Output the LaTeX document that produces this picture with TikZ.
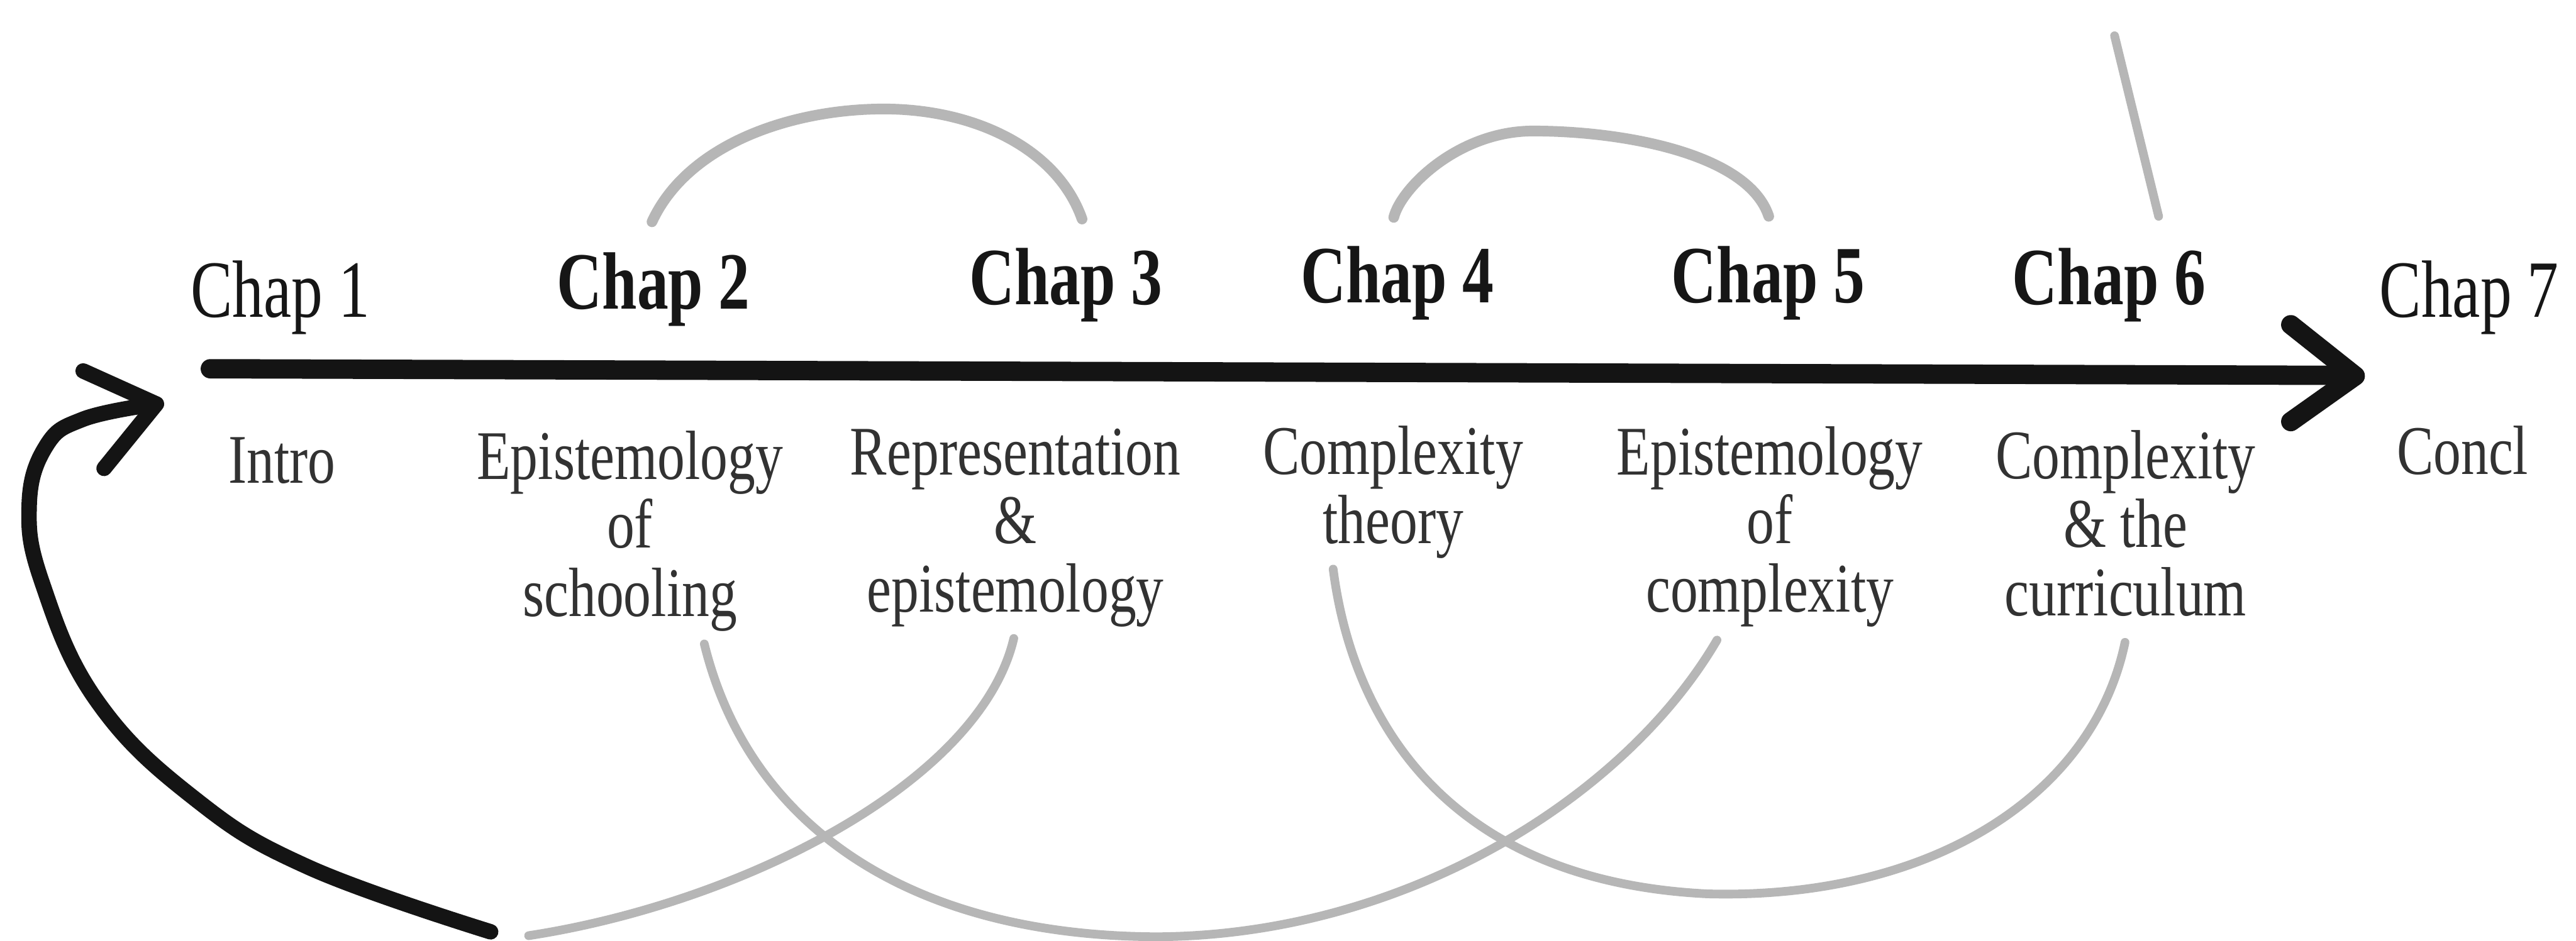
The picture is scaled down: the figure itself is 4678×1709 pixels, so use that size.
\documentclass[tikz,border=0pt]{standalone}
\usepackage{fontspec}
\newfontfamily\chapfont[FakeStretch=0.77]{Liberation Serif}
\newfontfamily\subfont[FakeStretch=0.79]{Liberation Serif}
\definecolor{ink}{RGB}{20,20,20}
\definecolor{chapink}{RGB}{22,22,22}
\definecolor{subink}{RGB}{50,50,50}
\definecolor{pencilgray}{RGB}{182,182,182}
\begin{document}
\begin{tikzpicture}[x=0.01cm,y=-0.01cm,
  chap/.style={anchor=base, inner sep=0pt, text=chapink, font=\chapfont\fontsize{42}{44}\selectfont},
  chapb/.style={chap, font=\chapfont\bfseries\fontsize{42}{44}\selectfont},
  sub/.style={anchor=base, inner sep=0pt, align=center, text=subink, font=\subfont\fontsize{36}{35.5}\selectfont},
  mainline/.style={line width=10pt, draw=ink, line cap=round, line join=round},
  loopline/.style={line width=8pt, draw=ink, line cap=round, line join=round},
  pencil/.style={line width=4.5pt, draw=pencilgray, line cap=round},
  pencilthick/.style={pencil, line width=5.5pt}]
\useasboundingbox (0,0) rectangle (4678,1709);
\fill[white] (0,0) rectangle (4678,1709);

% chapter headings
\node[chap]  (c1) at (509,576)  {Chap 1};
\node[chapb] (c2) at (1187,561) {Chap 2};
\node[chapb] (c3) at (1936,553) {Chap 3};
\node[chapb] (c4) at (2538,550) {Chap 4};
\node[chapb] (c5) at (3211,550) {Chap 5};
\node[chapb] (c6) at (3830,553) {Chap 6};
\node[chap]  (c7) at (4484,576) {Chap 7};

% subtitles (anchor = baseline of last line)
\node[sub] (s1) at (512,878)  {Intro};
\node[sub] (s2) at (1144,1120) {Epistemology\\of\\schooling};
\node[sub] (s3) at (1844,1112) {Representation\\\&\\epistemology};
\node[sub] (s4) at (2530,987) {Complexity\\theory};
\node[sub] (s5) at (3214,1112) {Epistemology\\of\\complexity};
\node[sub] (s6) at (3860,1119) {Complexity\\\& the\\curriculum};
\node[sub] (s7) at (4472,862) {Concl};

% main time arrow
\coordinate (mstart) at (382,670);
\coordinate (mend) at (4250,682);
\coordinate (mtip) at (4277,683);
\coordinate (mup) at (4160,590);
\coordinate (mlo) at (4160,766);
\draw[mainline] (mstart) -- (mend);
\draw[mainline] (mup) -- (mtip) -- (mlo);

% looping black arrow
\coordinate (ltip) at (284,734);
\coordinate (lup) at (151,674);
\coordinate (llo) at (189,851);
\draw[loopline] plot[smooth, tension=0.7] coordinates {(891,1693) (561,1576) (351,1449) (175,1272) (77,1060) (53,918) (84,810) (150,762) (270,736)};
\draw[loopline] (lup) -- (ltip) -- (llo);

% pencil arcs above
\coordinate (a1s) at (1184,403); \coordinate (a1p) at (1605,198); \coordinate (a1e) at (1965,398);
\draw[pencilthick] (a1s) .. controls (1250,260) and (1440,198) .. (a1p) .. controls (1770,198) and (1920,270) .. (a1e);
\coordinate (a2s) at (2531,395); \coordinate (a2p) at (2784,238); \coordinate (a2e) at (3212,393);
\draw[pencilthick] (a2s) .. controls (2545,340) and (2650,238) .. (a2p) .. controls (2950,238) and (3175,280) .. (a2e);
\coordinate (a3s) at (3840,65); \coordinate (a3e) at (3920,393);
\draw[pencil] (a3s) -- (a3e);

% pencil curves below
\coordinate (b1s) at (960,1700); \coordinate (b1e) at (1841,1160);
\draw[pencil] (b1s) .. controls (1350,1640) and (1780,1420) .. (b1e);
\coordinate (b2s) at (1279,1170); \coordinate (b2m) at (2100,1702); \coordinate (b2e) at (3118,1163);
\draw[pencil] (b2s) .. controls (1360,1500) and (1650,1700) .. (b2m) .. controls (2550,1700) and (2950,1450) .. (b2e);
\coordinate (b3s) at (2421,1034); \coordinate (b3m) at (3100,1624); \coordinate (b3e) at (3859,1167);
\draw[pencil] (b3s) .. controls (2455,1300) and (2620,1600) .. (b3m) .. controls (3500,1635) and (3800,1450) .. (b3e);
\end{tikzpicture}
\end{document}
